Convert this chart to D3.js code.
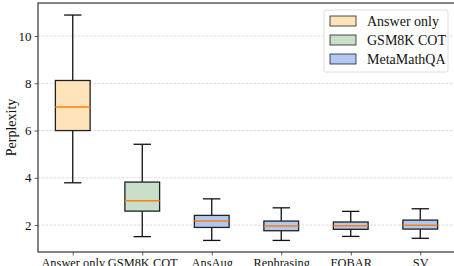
<!DOCTYPE html>
<html>
<head>
<meta charset="utf-8">
<script src="https://cdn.jsdelivr.net/npm/d3@7"></script>
<style>
  body { margin: 0; background: #fff; }
  text { font-family: "Liberation Serif", "Times New Roman", serif; }
</style>
</head>
<body>
<svg id="chart" width="454" height="266"></svg>
<script>
// data
var categories = ["Answer only", "GSM8K COT", "AnsAug", "Rephrasing", "FOBAR", "SV"];
var groups     = ["Answer only", "GSM8K COT", "MetaMathQA", "MetaMathQA", "MetaMathQA", "MetaMathQA"];
var whiskLow   = [3.79, 1.51, 1.35, 1.35, 1.52, 1.44];
var q1         = [6.00, 2.59, 1.90, 1.76, 1.82, 1.83];
var medians    = [7.00, 3.03, 2.17, 1.96, 1.97, 1.99];
var q3         = [8.12, 3.82, 2.41, 2.17, 2.13, 2.21];
var whiskHigh  = [10.89, 5.42, 3.11, 2.73, 2.58, 2.69];
var yTicks     = [2, 4, 6, 8, 10];
var legendNames = ["Answer only", "GSM8K COT", "MetaMathQA"];
var legendColors = ["#fee4b8", "#c9dfca", "#b0c8f2"];

var svg = d3.select("#chart");
var pL = 38, pR = 455, pT = 3, pB = 252;

var x = d3.scalePoint().domain(categories).range([pL, pR]).padding(0.5);
var step = x.step();
var y = d3.scaleLinear().domain([0.86, 11.4]).range([pB, pT]);
var color = d3.scaleOrdinal().domain(legendNames).range(legendColors);

// grid
svg.append("g").selectAll("line").data(yTicks).join("line")
  .attr("x1", pL).attr("x2", pR)
  .attr("y1", function(d){ return y(d); }).attr("y2", function(d){ return y(d); })
  .attr("stroke", "#cfcfcf").attr("stroke-width", 0.8).attr("stroke-dasharray", "2.5,1.5");

// axes
var yAxis = svg.append("g").attr("transform", "translate(" + pL + ",0)")
  .call(d3.axisLeft(y).tickValues(yTicks).tickSize(3.5).tickPadding(3));
var xAxis = svg.append("g").attr("transform", "translate(0," + pB + ")")
  .call(d3.axisBottom(x).tickSize(3.5).tickPadding(2.5));
[yAxis, xAxis].forEach(function(a){
  a.select(".domain").remove();
  a.selectAll("line").attr("stroke", "#333").attr("stroke-width", 0.8);
  a.selectAll("text").attr("fill", "#111").style("font-size", "13px");
});
xAxis.selectAll("text").style("font-size", "12.4px");

// spines
svg.append("rect").attr("x", pL).attr("y", pT)
  .attr("width", pR - pL).attr("height", pB - pT)
  .attr("fill", "none").attr("stroke", "#333").attr("stroke-width", 1.2);

// boxes
var bw = step * 0.5;
var boxes = svg.append("g").selectAll("g").data(categories).join("g");
boxes.append("line")
  .attr("x1", function(d){ return x(d); }).attr("x2", function(d){ return x(d); })
  .attr("y1", function(d, i){ return y(whiskHigh[i]); }).attr("y2", function(d, i){ return y(q3[i]); })
  .attr("stroke", "#111").attr("stroke-width", 1.3);
boxes.append("line")
  .attr("x1", function(d){ return x(d); }).attr("x2", function(d){ return x(d); })
  .attr("y1", function(d, i){ return y(q1[i]); }).attr("y2", function(d, i){ return y(whiskLow[i]); })
  .attr("stroke", "#111").attr("stroke-width", 1.3);
[whiskHigh, whiskLow].forEach(function(arr){
  boxes.append("line")
    .attr("x1", function(d){ return x(d) - bw / 4; }).attr("x2", function(d){ return x(d) + bw / 4; })
    .attr("y1", function(d, i){ return y(arr[i]); }).attr("y2", function(d, i){ return y(arr[i]); })
    .attr("stroke", "#111").attr("stroke-width", 1.3);
});
boxes.append("rect")
  .attr("x", function(d){ return x(d) - bw / 2; }).attr("width", bw)
  .attr("y", function(d, i){ return y(q3[i]); })
  .attr("height", function(d, i){ return y(q1[i]) - y(q3[i]); })
  .attr("fill", function(d, i){ return color(groups[i]); })
  .attr("stroke", "#222").attr("stroke-width", 1.3);
boxes.append("line")
  .attr("x1", function(d){ return x(d) - bw / 2; }).attr("x2", function(d){ return x(d) + bw / 2; })
  .attr("y1", function(d, i){ return y(medians[i]); }).attr("y2", function(d, i){ return y(medians[i]); })
  .attr("stroke", "#ff7f0e").attr("stroke-width", 1.6);

// y label
svg.append("text").attr("transform", "translate(16," + ((pT + pB) / 2) + ") rotate(-90)")
  .attr("text-anchor", "middle").style("font-size", "14px").attr("fill", "#111").text("Perplexity");

// legend
var lg = svg.append("g").attr("transform", "translate(324,10)");
lg.append("rect").attr("width", 124).attr("height", 62).attr("rx", 2)
  .attr("fill", "#fff").attr("fill-opacity", 0.8).attr("stroke", "#ddd");
var items = lg.selectAll("g").data(legendNames).join("g")
  .attr("transform", function(d, i){ return "translate(6," + (6 + i * 19) + ")"; });
items.append("rect").attr("width", 26).attr("height", 10)
  .attr("fill", function(d){ return color(d); }).attr("stroke", "#222").attr("stroke-width", 0.8);
items.append("text").attr("x", 37).attr("y", 10).style("font-size", "14px").attr("fill", "#111")
  .text(function(d){ return d; });
</script>
</body>
</html>
